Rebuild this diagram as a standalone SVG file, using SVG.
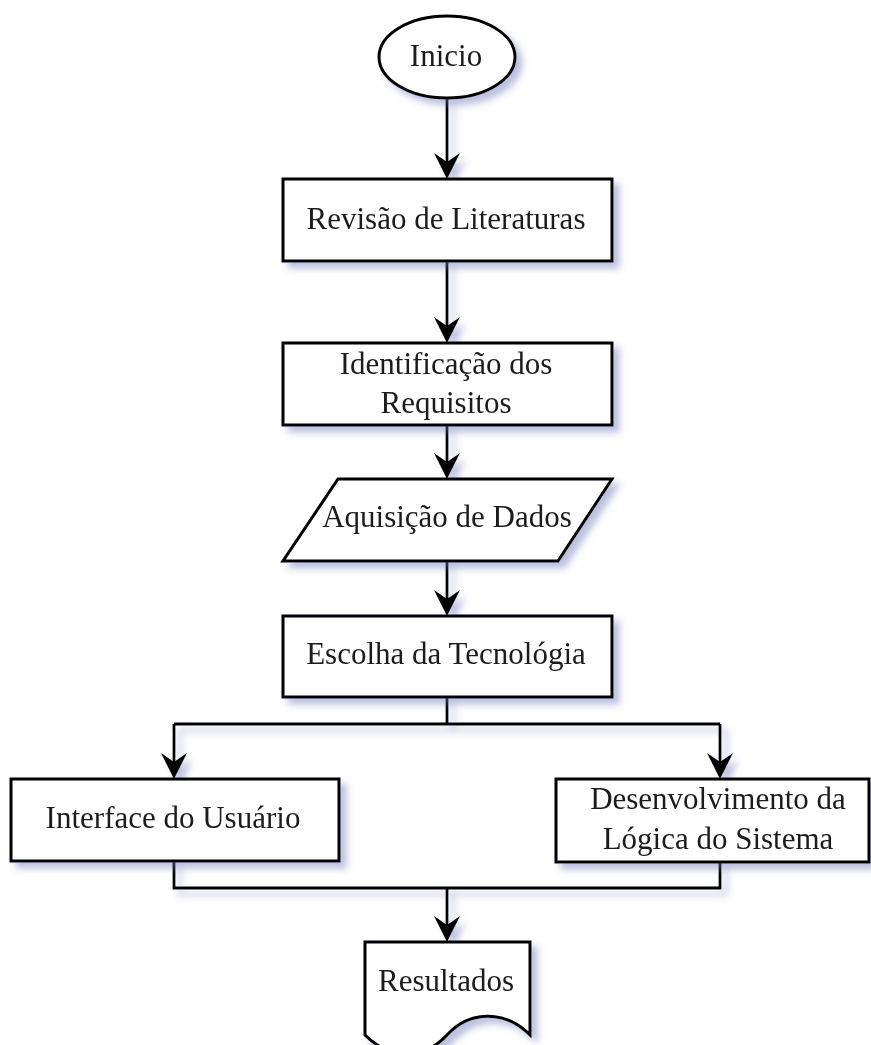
<svg xmlns="http://www.w3.org/2000/svg" width="871" height="1045" viewBox="0 0 871 1045">
  <defs>
    <style>
      .shape { fill: #ffffff; stroke: #000000; stroke-width: 3; }
      .wire { fill: none; stroke: #000000; stroke-width: 2.8; }
      .label { font-family: "Liberation Serif", "Times New Roman", serif; font-size: 31px; fill: #1a1a1a; text-anchor: middle; }
    </style>
    <filter id="shadow" filterUnits="userSpaceOnUse" x="0" y="0" width="871" height="1045">
      <feGaussianBlur in="SourceAlpha" stdDeviation="3.5"/>
      <feOffset dx="6" dy="6" result="blurred"/>
      <feFlood flood-color="#6a72b4" flood-opacity="0.45"/>
      <feComposite in2="blurred" operator="in"/>
      <feMerge>
        <feMergeNode/>
        <feMergeNode in="SourceGraphic"/>
      </feMerge>
    </filter>
    <marker id="arrow" viewBox="0 0 26 26" refX="16" refY="13" markerWidth="26" markerHeight="26" markerUnits="userSpaceOnUse" orient="auto">
      <path d="M0,0 L26,13 L0,26 L9,13 Z" fill="#000000"/>
    </marker>
  </defs>

  <rect width="871" height="1045" fill="#ffffff"/>

  <!-- connectors -->
  <g id="connectors" class="wire" filter="url(#shadow)">
    <line x1="447" y1="98" x2="447" y2="169" marker-end="url(#arrow)"/>
    <line x1="447" y1="261" x2="447" y2="333" marker-end="url(#arrow)"/>
    <line x1="447" y1="425" x2="447" y2="469" marker-end="url(#arrow)"/>
    <line x1="447" y1="561" x2="447" y2="606" marker-end="url(#arrow)"/>
    <polyline points="447,697 447,724"/>
    <polyline points="174,724 720,724"/>
    <line x1="174" y1="724" x2="174" y2="769" marker-end="url(#arrow)"/>
    <line x1="720" y1="724" x2="720" y2="769" marker-end="url(#arrow)"/>
    <polyline points="174,861 174,888 720,888 720,862"/>
    <line x1="447" y1="888" x2="447" y2="932" marker-end="url(#arrow)"/>
  </g>

  <!-- start -->
  <g id="inicio" filter="url(#shadow)">
    <ellipse class="shape" cx="447" cy="57" rx="68" ry="41"/>
    <text class="label" x="446" y="66">Inicio</text>
  </g>

  <g id="revisao" filter="url(#shadow)">
    <rect class="shape" x="283" y="179" width="329" height="82"/>
    <text class="label" x="446" y="229">Revisão de Literaturas</text>
  </g>

  <g id="requisitos" filter="url(#shadow)">
    <rect class="shape" x="283" y="343" width="329" height="82"/>
    <text class="label" x="446" y="374">Identificação dos</text>
    <text class="label" x="446" y="413">Requisitos</text>
  </g>

  <!-- data input -->
  <g id="aquisicao" filter="url(#shadow)">
    <polygon class="shape" points="338,479 612,479 558,561 283,561"/>
    <text class="label" x="447" y="527">Aquisição de Dados</text>
  </g>

  <g id="tecnologia" filter="url(#shadow)">
    <rect class="shape" x="283" y="616" width="329" height="81"/>
    <text class="label" x="446" y="664">Escolha da Tecnológia</text>
  </g>

  <g id="interface" filter="url(#shadow)">
    <rect class="shape" x="11" y="779" width="328" height="82"/>
    <text class="label" x="173" y="828">Interface do Usuário</text>
  </g>

  <g id="logica" filter="url(#shadow)">
    <rect class="shape" x="556" y="779" width="313" height="83"/>
    <text class="label" x="718" y="809">Desenvolvimento da</text>
    <text class="label" x="718" y="849">Lógica do Sistema</text>
  </g>

  <!-- output document -->
  <g id="resultados" filter="url(#shadow)">
    <path class="shape" d="M365,942 H530 V1035 C505,1010 470,1010 447,1035 C424,1060 390,1060 365,1035 Z"/>
    <text class="label" x="446" y="991">Resultados</text>
  </g>
</svg>
